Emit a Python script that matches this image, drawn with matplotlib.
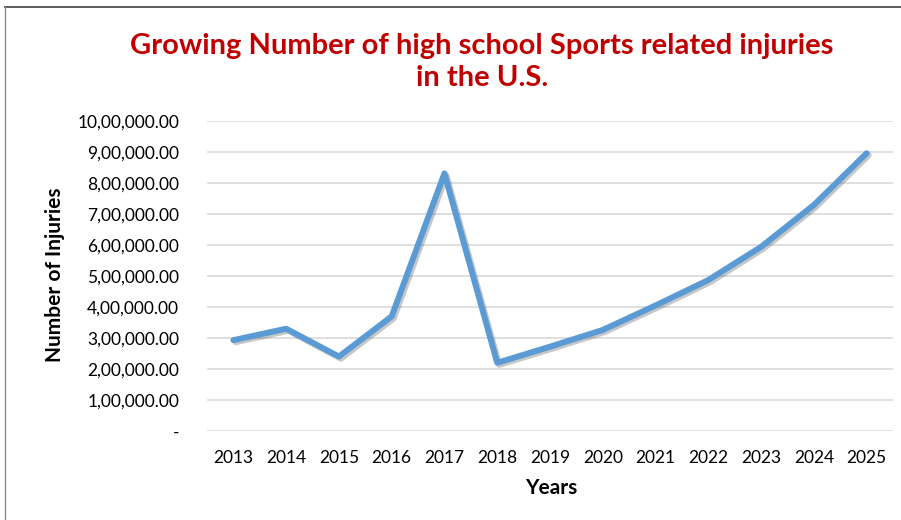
import matplotlib
matplotlib.use("Agg")
import matplotlib.pyplot as plt
import matplotlib.patheffects as pe
from matplotlib.ticker import FuncFormatter, MultipleLocator

years = ["2013", "2014", "2015", "2016", "2017", "2018", "2019",
         "2020", "2021", "2022", "2023", "2024", "2025"]
injuries = [293000, 330000, 240000, 370000, 831000, 220000, 272000,
            326000, 405000, 487000, 594000, 729000, 896000]

title = "Growing Number of high school Sports related injuries\nin the U.S."
xlabel = "Years"
ylabel = "Number of Injuries"

plt.rcParams['font.family'] = ['Lato', 'DejaVu Sans']

fig = plt.figure(figsize=(9.01, 5.2), dpi=100)
ax = fig.add_axes([207/901, 1-431/520, (893-207)/901, (431-121)/520])

x = list(range(len(years)))
ax.plot(x, injuries, color='#5B9BD5', lw=4.3, solid_capstyle='round',
        solid_joinstyle='round',
        path_effects=[pe.SimpleLineShadow(offset=(1.5, -1.5), shadow_color='#606060', alpha=0.35),
                      pe.Normal()], zorder=3)

ax.set_xlim(-0.5, len(years) - 0.5)
ax.set_ylim(0, 1000000)
ax.set_xticks(x)
ax.set_xticklabels(years)
ax.yaxis.set_major_locator(MultipleLocator(100000))

def indian(v, pos):
    v = int(round(v))
    if v == 0:
        return "-"
    s = str(v)
    last3 = s[-3:]
    rest = s[:-3]
    parts = []
    while len(rest) > 2:
        parts.insert(0, rest[-2:])
        rest = rest[:-2]
    if rest:
        parts.insert(0, rest)
    return ",".join(parts + [last3]) + ".00"

ax.yaxis.set_major_formatter(FuncFormatter(indian))
ax.grid(axis='y', color='#D9D9D9', lw=1.2)
ax.set_axisbelow(True)
for s in ax.spines.values():
    s.set_visible(False)
ax.tick_params(length=0, labelsize=12.5, colors='#000000')
ax.tick_params(axis='y', pad=20)
ax.tick_params(axis='x', pad=14)

fig.text(482/901, 1-62/520, title, ha='center', va='center', color='#C00000',
         fontsize=21, fontweight='bold', linespacing=1.3)
fig.text(55/901, 1-275/520, ylabel, rotation=90, ha='center', va='center',
         fontsize=15, fontweight='bold')
fig.text(551/901, 1-488/520, xlabel, ha='center', va='center',
         fontsize=15, fontweight='bold')

# chart frame
fig.add_artist(plt.Line2D([5/901, 1], [1-7/520, 1-7/520], color='#404040', lw=1.2, transform=fig.transFigure))
fig.add_artist(plt.Line2D([5/901, 5/901], [0, 1-7/520], color='#8090A0', lw=1.0, transform=fig.transFigure))

fig.savefig("out.png", dpi=100)
